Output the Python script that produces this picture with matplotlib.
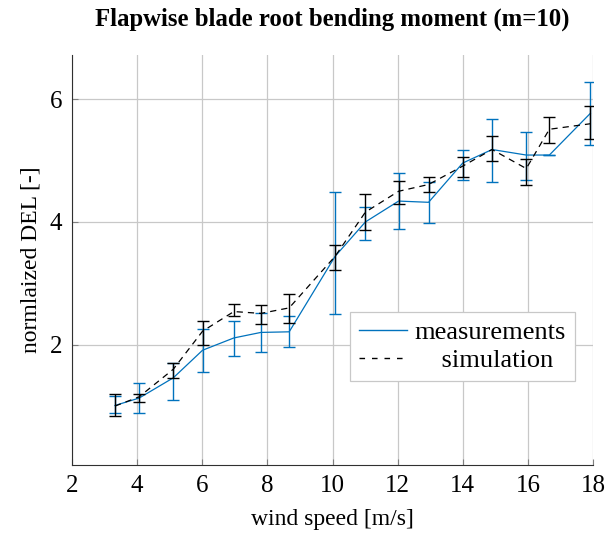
import matplotlib
matplotlib.use("Agg")
import matplotlib.pyplot as plt
import numpy as np

# data
wind = [3.32, 4.06, 5.11, 6.01, 6.97, 7.80, 8.67, 10.08, 11.01, 12.03, 12.95, 14.00, 14.90, 15.95, 16.66, 17.92]
meas = [1.01, 1.13, 1.46, 1.91, 2.11, 2.20, 2.21, 3.44, 4.00, 4.34, 4.32, 4.96, 5.18, 5.09, 5.09, 5.77]
meas_hi = [1.16, 1.37, 1.70, 2.26, 2.38, 2.52, 2.46, 4.49, 4.25, 4.79, 4.65, 5.18, 5.67, 5.47, 5.09, 6.28]
meas_lo = [0.88, 0.885, 1.10, 1.55, 1.82, 1.88, 1.96, 2.50, 3.71, 3.88, 3.99, 4.69, 4.65, 4.69, 5.09, 5.25]
sim = [1.00, 1.15, 1.60, 2.22, 2.54, 2.51, 2.60, 3.44, 4.16, 4.50, 4.61, 4.91, 5.18, 4.87, 5.51, 5.60]
sim_hi = [1.20, 1.195, 1.70, 2.38, 2.67, 2.64, 2.83, 3.63, 4.45, 4.67, 4.73, 5.06, 5.40, 5.02, 5.71, 5.89]
sim_lo = [0.84, 1.06, 1.46, 2.00, 2.46, 2.34, 2.35, 3.21, 3.87, 4.30, 4.49, 4.74, 4.99, 4.60, 5.28, 5.35]

xticks = [2, 4, 6, 8, 10, 12, 14, 16, 18]
yticks = [2, 4, 6]

plt.rcParams['font.family'] = ['Liberation Serif', 'DejaVu Serif']

blue = '#0072BD'

fig = plt.figure(figsize=(6.16, 5.34), dpi=100)
ax = fig.add_axes([72/616, 1-465/534, (593-72)/616, (465-55)/534])

m = np.array(meas); s = np.array(sim)
ax.errorbar(wind, meas, yerr=[m-np.array(meas_lo), np.array(meas_hi)-m],
            color=blue, lw=0.9, elinewidth=1.0, capsize=4, capthick=1.0, zorder=3)
ax.errorbar(wind, sim, yerr=[s-np.array(sim_lo), np.array(sim_hi)-s],
            color='black', lw=0.9, ls=(0, (5, 4)), elinewidth=1.0, capsize=4, capthick=1.0, zorder=4)

h1, = ax.plot([], [], color=blue, lw=1.0)
h2, = ax.plot([], [], color='black', lw=1.0, ls=(0, (4, 5)))

ax.set_xlim(2, 18)
ax.set_ylim(0.04, 6.72)
ax.set_xticks(xticks)
ax.set_yticks(yticks)
ax.grid(True, color='#c8c8c8', lw=0.9)
ax.set_axisbelow(True)
ax.spines['top'].set_visible(False)
ax.spines['right'].set_visible(False)
ax.spines['left'].set_color('#303030')
ax.spines['bottom'].set_color('#303030')
ax.tick_params(direction='in', length=4, colors='#808080', labelcolor='black', labelsize=18, pad=7)

ax.set_xlabel('wind speed [m/s]', fontsize=17, labelpad=9)
ax.set_ylabel('normlaized DEL [-]', fontsize=17, labelpad=6)
ax.set_title('Flapwise blade root bending moment (m=10)', fontsize=17.8, fontweight='bold', pad=21)

leg = ax.legend([h1, h2], ['measurements', '    simulation'], fontsize=19,
                loc='upper left', bbox_to_anchor=((350-72)/521, 1-(311.7-55)/410),
                frameon=True, fancybox=False, edgecolor='#c8c8c8', framealpha=1,
                handlelength=1.8, handletextpad=0.3, borderpad=0.35, labelspacing=0.15,
                borderaxespad=0)
leg.get_frame().set_linewidth(0.9)

fig.savefig('out.png', dpi=100)
